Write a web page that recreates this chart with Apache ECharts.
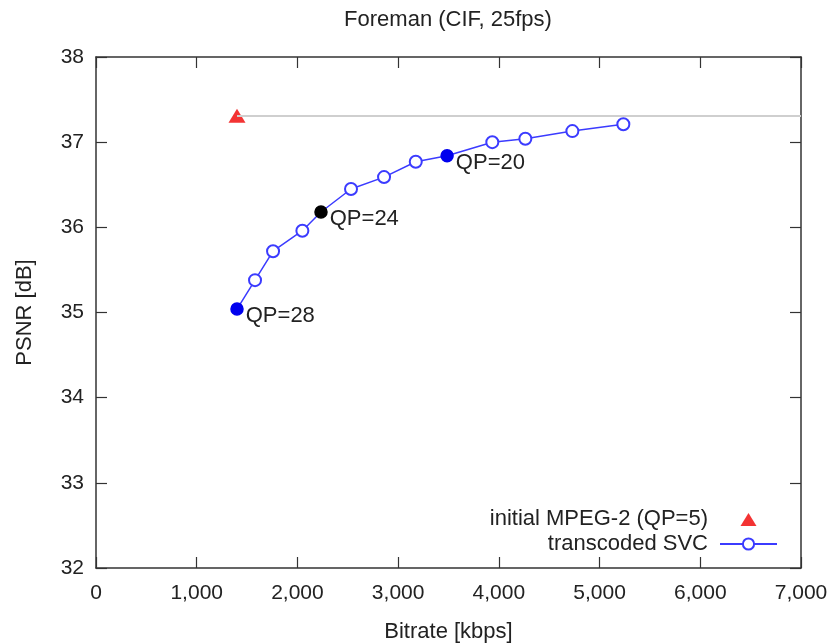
<!DOCTYPE html>
<html>
<head>
<meta charset="utf-8">
<script src="https://cdn.jsdelivr.net/npm/echarts@6/dist/echarts.min.js"></script>
<style>
  html, body { margin: 0; padding: 0; background: #fff; }
  #chart { width: 829px; height: 643px; }
</style>
</head>
<body>
<div id="chart"></div>
<script>
// Rate-distortion data for Foreman (CIF, 25fps)
const svcBitrate = [1400, 1579, 1758, 2049, 2234, 2532, 2860, 3175, 3486, 3935, 4263, 4730, 5236];
const svcPsnr    = [35.04, 35.38, 35.72, 35.96, 36.18, 36.45, 36.59, 36.77, 36.84, 37.00, 37.04, 37.13, 37.21];
// highlighted operating points: index into the SVC curve, label, fill colour
const qpIndex  = [0, 4, 8];
const qpLabels = ['QP=28', 'QP=24', 'QP=20'];
const qpColors = ['#0000ee', '#000000', '#0000ee'];

const mpegBitrate = [1400];
const mpegPsnr    = [37.31];

const xTicksMax = 7000;
const fontFam = '"Liberation Sans", Arial, sans-serif';
const textColor = '#222';

// legend key for the triangle: stray move-to points keep a 57x14 box so the
// triangle sits centred where the line key is drawn
const triangleKey = 'path://M0,0M57,14M20.5,14L28.5,1L36.5,14Z';

const chart = echarts.init(document.getElementById('chart'));

const svcData = svcBitrate.map((b, i) => {
  const k = qpIndex.indexOf(i);
  if (k < 0) return [b, svcPsnr[i]];
  return {
    value: [b, svcPsnr[i]],
    symbol: 'circle',
    itemStyle: { color: qpColors[k], borderColor: qpColors[k] },
    label: {
      show: true,
      formatter: qpLabels[k],
      position: 'right',
      distance: 2,
      offset: [0, 7],
      color: textColor,
      fontSize: 22,
      fontFamily: fontFam
    }
  };
});

const frameLine = { show: true, onZero: false, lineStyle: { color: '#333', width: 1.5 } };
const tick = { show: true, inside: true, length: 11, lineStyle: { color: '#333', width: 1.2 } };

chart.setOption({
  animation: false,
  backgroundColor: '#fff',
  title: {
    text: 'Foreman (CIF, 25fps)',
    left: 443, top: 4, textAlign: 'center',
    textStyle: { fontFamily: fontFam, fontSize: 22, fontWeight: 'normal', color: textColor }
  },
  grid: { left: 96, right: 28, top: 57, bottom: 75, outerBoundsMode: 'none', containLabel: false },
  legend: {
    orient: 'vertical',
    right: 46, top: 503,
    align: 'right',
    itemGap: 3,
    itemWidth: 57, itemHeight: 14,
    textStyle: { fontFamily: fontFam, fontSize: 22, color: textColor, padding: [0, 7, 0, 0] },
    data: [
      { name: 'initial MPEG-2 (QP=5)', icon: triangleKey },
      { name: 'transcoded SVC' }
    ]
  },
  xAxis: [{
    type: 'value', min: 0, max: xTicksMax, interval: 1000,
    name: 'Bitrate [kbps]', nameLocation: 'middle', nameGap: 53,
    nameTextStyle: { fontFamily: fontFam, fontSize: 22, color: textColor },
    axisLine: frameLine,
    axisTick: tick,
    axisLabel: {
      fontFamily: fontFam, fontSize: 21, color: textColor, margin: 15,
      formatter: v => v.toLocaleString('en-US')
    },
    splitLine: { show: false }
  }, {
    type: 'value', position: 'top', min: 0, max: xTicksMax, interval: 1000,
    axisLine: frameLine,
    axisTick: tick,
    axisLabel: { show: false },
    splitLine: { show: false }
  }],
  yAxis: [{
    type: 'value', position: 'left', min: 32, max: 38, interval: 1,
    name: 'PSNR [dB]', nameLocation: 'middle', nameGap: 60, nameRotate: 90,
    nameTextStyle: { fontFamily: fontFam, fontSize: 22, color: textColor },
    axisLine: frameLine,
    axisTick: tick,
    axisLabel: { fontFamily: fontFam, fontSize: 21, color: textColor, margin: 12 },
    splitLine: { show: false }
  }, {
    type: 'value', position: 'right', min: 32, max: 38, interval: 1,
    axisLine: frameLine,
    axisTick: tick,
    axisLabel: { show: false },
    splitLine: { show: false }
  }],
  series: [{
    name: 'initial MPEG-2 (QP=5)',
    type: 'scatter',
    symbol: 'triangle',
    symbolSize: [17, 14],
    itemStyle: { color: '#f00000' },
    data: mpegBitrate.map((b, i) => [b, mpegPsnr[i]]),
    z: 3,
    markLine: {
      silent: true,
      symbol: 'none',
      label: { show: false },
      lineStyle: { color: '#cfcfcf', width: 2, type: 'solid' },
      data: [[
        { coord: [mpegBitrate[0], mpegPsnr[0]] },
        { coord: [xTicksMax, mpegPsnr[0]] }
      ]]
    }
  }, {
    name: 'transcoded SVC',
    type: 'line',
    symbol: 'emptyCircle',
    symbolSize: 12,
    showAllSymbol: true,
    lineStyle: { color: '#3b3bff', width: 1.5 },
    itemStyle: { color: '#3b3bff', borderColor: '#3b3bff', borderWidth: 1.5 },
    data: svcData,
    z: 4
  }]
});
</script>
</body>
</html>
